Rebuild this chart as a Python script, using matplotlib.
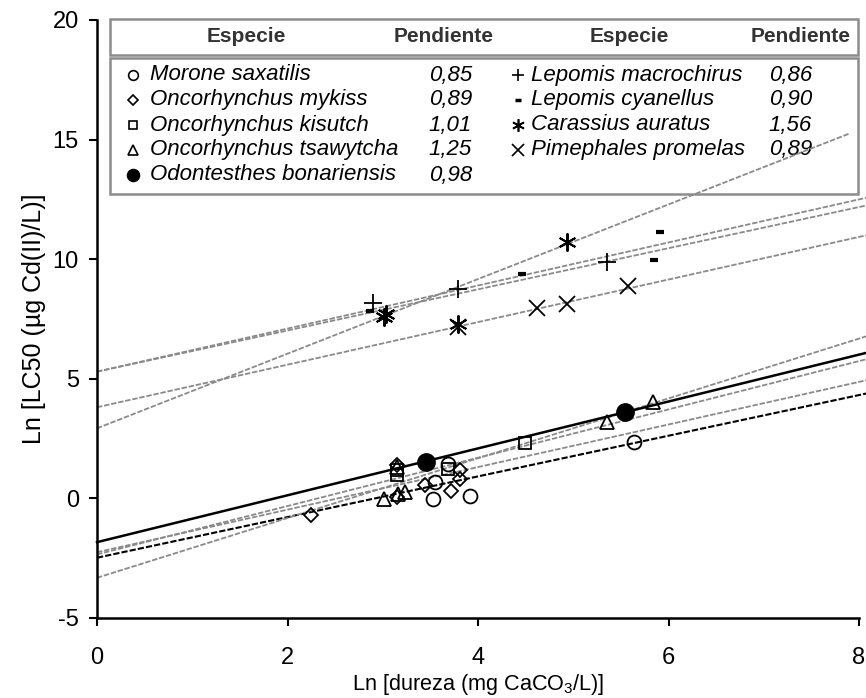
import matplotlib.pyplot as plt
from matplotlib.patches import Rectangle
import numpy as np

plt.rcParams['font.family'] = ['Liberation Sans', 'DejaVu Sans']
plt.rcParams['mathtext.fontset'] = 'custom'
plt.rcParams['mathtext.rm'] = 'Liberation Sans'
plt.rcParams['axes.unicode_minus'] = False

# species, legend slope text, fitted line (intercept, slope)
species = ["Morone saxatilis", "Oncorhynchus mykiss", "Oncorhynchus kisutch",
           "Oncorhynchus tsawytcha", "Odontesthes bonariensis",
           "Lepomis macrochirus", "Lepomis cyanellus", "Carassius auratus",
           "Pimephales promelas"]
slope_labels = ["0,85", "0,89", "1,01", "1,25", "0,98", "0,86", "0,90", "1,56", "0,89"]
intercepts = [-2.48, -2.25, -2.34, -3.32, -1.83, 5.30, 5.30, 2.93, 3.81]
slopes = [0.85, 0.89, 1.01, 1.25, 0.98, 0.86, 0.90, 1.56, 0.89]
x_end = [8.08, 8.08, 8.08, 8.08, 8.08, 8.08, 8.08, 7.90, 8.08]

# data points: Ln(hardness), Ln(LC50)
x_morone = [5.64, 3.53, 3.92, 3.55, 3.69]
y_morone = [2.36, -0.01, 0.08, 0.68, 1.45]
x_mykiss = [2.25, 3.15, 3.44, 3.72, 3.81, 3.15, 3.81]
y_mykiss = [-0.71, 0.06, 0.54, 0.33, 0.82, 1.38, 1.17]
x_kisutch = [4.49, 3.15, 3.69, 3.15]
y_kisutch = [2.31, 1.17, 1.24, 0.96]
x_tsaw = [5.84, 5.35, 3.01, 3.23, 3.15, 3.16]
y_tsaw = [4.03, 3.19, -0.01, 0.26, 1.31, 0.20]
x_odont = [3.45, 5.54]
y_odont = [1.52, 3.61]
x_macro = [2.90, 3.79, 5.35]
y_macro = [8.15, 8.77, 9.89]
x_cyan = [2.87, 4.46, 5.91, 5.85]
y_cyan = [7.85, 9.37, 11.14, 9.96]
x_caras = [3.01, 3.03, 3.79, 4.93]
y_caras = [7.59, 7.70, 7.30, 10.72]
x_pime = [3.79, 4.62, 4.93, 5.57]
y_pime = [7.15, 7.94, 8.12, 8.87]

points = [(x_morone, y_morone), (x_mykiss, y_mykiss), (x_kisutch, y_kisutch),
          (x_tsaw, y_tsaw), (x_odont, y_odont), (x_macro, y_macro),
          (x_cyan, y_cyan), (x_caras, y_caras), (x_pime, y_pime)]

markers = ['o', 'D', 's', '^', 'o', '+', '_', (6, 2, 0), 'x']
msizes = [10, 7.5, 9, 10, 12.5, 13, 6, 13, 12]
mews = [1.3, 1.3, 1.3, 1.3, 1.0, 1.3, 3.0, 1.4, 1.3]
line_col = ['black', '#8a8a8a', '#8a8a8a', '#8a8a8a', 'black',
            '#8a8a8a', '#8a8a8a', '#8a8a8a', '#8a8a8a']
line_sty = [(0, (3, 1)), (0, (3, 1)), (0, (3, 1)), (0, (3, 1)), '-',
            (0, (3, 1)), (0, (3, 1)), (0, (3, 1)), (0, (3, 1))]
line_w = [1.5, 1.3, 1.3, 1.3, 1.8, 1.3, 1.3, 1.3, 1.3]

fig = plt.figure(figsize=(8.66, 6.98), dpi=100)

# legend drawn in pixel coordinates on a background axes
lax = fig.add_axes([0, 0, 1, 1], zorder=0)
lax.set_xlim(0, 866)
lax.set_ylim(698, 0)
lax.axis('off')

ax = fig.add_axes([97/866, 80/698, 762/866, 598/698], zorder=2)
ax.patch.set_visible(False)

for i in range(len(species)):
    xs = np.array([0, x_end[i]])
    ax.plot(xs, intercepts[i] + slopes[i]*xs, color=line_col[i],
            linestyle=line_sty[i], lw=line_w[i], clip_on=False, zorder=2)

for i, (px, py) in enumerate(points):
    fc = 'black' if i == 4 else 'none'
    ax.plot(px, py, linestyle='none', marker=markers[i], ms=msizes[i],
            mec='black', mfc=fc, mew=mews[i], zorder=3, clip_on=False)

ax.set_xlim(0, 8)
ax.set_ylim(-5, 20)
ax.set_xticks([0, 2, 4, 6, 8])
ax.set_yticks([-5, 0, 5, 10, 15, 20])
for s in ['top', 'right']:
    ax.spines[s].set_visible(False)
for s in ['left', 'bottom']:
    ax.spines[s].set_linewidth(1.8)
ax.tick_params(direction='out', length=6, width=1.5, labelsize=17)
ax.tick_params(axis='x', pad=15)
ax.tick_params(axis='y', pad=7)
ax.set_xlabel("Ln [dureza (mg CaCO$_3$/L)]", fontsize=15.6, labelpad=2)
ax.set_ylabel("Ln [LC50 (µg Cd(II)/L)]", fontsize=18, labelpad=5)

# legend table
edge = '#8c8c8c'
lax.add_patch(Rectangle((110, 19), 748, 36, fc='white', ec=edge, lw=1.8))
lax.add_patch(Rectangle((110, 58), 748, 136, fc='white', ec=edge, lw=1.8))
head_y = 37
for hx, ht in [(246, "Especie"), (444, "Pendiente"), (629, "Especie"), (801, "Pendiente")]:
    lax.text(hx, head_y, ht, ha='center', va='center', fontsize=15,
             fontweight='bold', color='#333333')

row_y = [75, 100, 125, 150, 175]
for i in range(len(species)):
    if i < 5:
        r, mx, nx, vx = i, 133, 150, 472
    else:
        r, mx, nx, vx = i - 5, 518, 531, 812
    fc = 'black' if i == 4 else 'none'
    ms = msizes[i] * 0.7
    lax.plot(mx, row_y[r], marker=markers[i], ms=ms, mec='black', mfc=fc,
             mew=min(mews[i], 1.2) if i != 6 else 2.5, linestyle='none')
    lax.text(nx, row_y[r], species[i], ha='left', va='center', fontsize=16,
             style='italic')
    lax.text(vx, row_y[r], slope_labels[i], ha='right', va='center', fontsize=16,
             style='italic')

fig.savefig("out.png", dpi=100)
